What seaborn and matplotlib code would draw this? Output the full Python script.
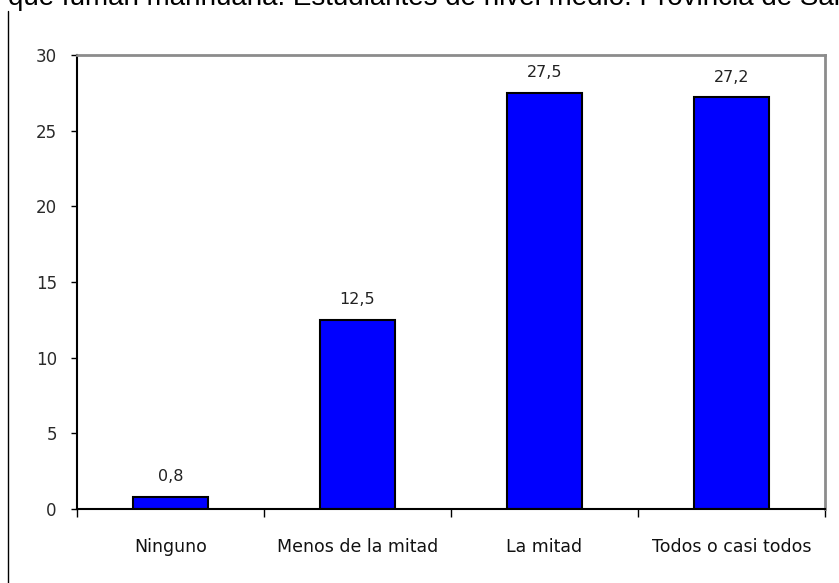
import numpy as np
import pandas as pd
import matplotlib
matplotlib.use("Agg")
import matplotlib.pyplot as plt
from matplotlib.lines import Line2D
import seaborn as sns

# datos del grafico
categorias = ["Ninguno", "Menos de la mitad", "La mitad", "Todos o casi todos"]
porcentajes = [0.8, 12.5, 27.5, 27.2]
titulo = "que fuman marihuana. Estudiantes de nivel medio. Provincia de Santa Fe"
yticks = [0, 5, 10, 15, 20, 25, 30]

sns.set_theme(style="white")
plt.rcParams["font.family"] = ["DejaVu Sans"]

df = pd.DataFrame({"categoria": categorias, "porcentaje": porcentajes})

fig = plt.figure(figsize=(8.39, 5.83), dpi=100)
ax = fig.add_axes([77 / 839, 74 / 583, 748 / 839, 454 / 583])

sns.barplot(
    data=df,
    x="categoria",
    y="porcentaje",
    color="#0000FF",
    saturation=1,
    width=0.4,
    edgecolor="black",
    linewidth=1.5,
    ax=ax,
)

ax.set_xlim(-0.5, len(categorias) - 0.5)
ax.set_ylim(0, 30)
ax.set_yticks(yticks)
ax.set_xlabel("")
ax.set_ylabel("")

# etiquetas de valores con coma decimal
ax.bar_label(
    ax.containers[0],
    labels=[f"{v:.1f}".replace(".", ",") for v in porcentajes],
    padding=9,
    fontsize=11.5,
    color="#222222",
)

# ejes
for s in ["left", "bottom"]:
    ax.spines[s].set_color("black")
    ax.spines[s].set_linewidth(1.5)
for s in ["top", "right"]:
    ax.spines[s].set_color("#8c8c8c")
    ax.spines[s].set_linewidth(2)

ax.tick_params(axis="y", which="major", direction="out", length=4.5, width=1,
               color="black", pad=10, labelsize=12, labelcolor="#2a2a2a", left=True)
ax.set_xticks(np.arange(len(categorias) + 1) - 0.5, minor=True)
ax.tick_params(axis="x", which="minor", direction="out", length=6, width=1,
               color="black", bottom=True)
ax.tick_params(axis="x", which="major", length=0, pad=21, labelsize=12.5,
               labelcolor="#111111")

# titulo cortado en la parte superior
fig.text(8 / 839, 1 - 5 / 583, titulo, fontsize=20, family="Liberation Sans",
         ha="left", va="baseline", color="black")

# linea vertical izquierda
fig.add_artist(Line2D([8 / 839, 8 / 839], [0, 1 - 11 / 583],
                      transform=fig.transFigure, color="black", linewidth=1))

fig.savefig("out.png", dpi=100)
